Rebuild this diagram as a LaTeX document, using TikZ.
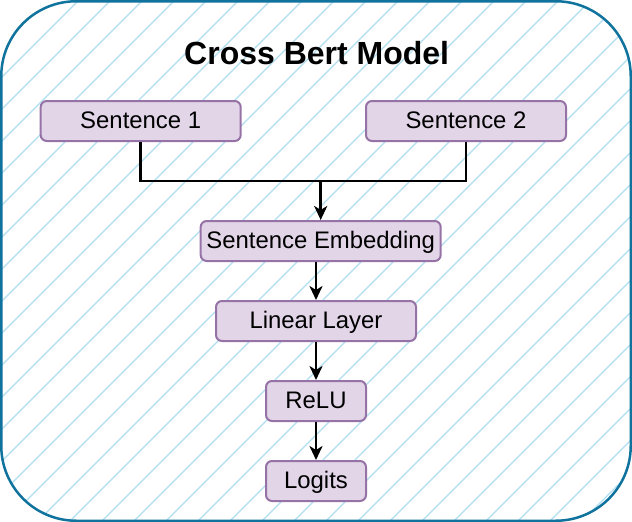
\documentclass[tikz,border=0pt]{standalone}
\usepackage{fontspec}
\setmainfont{Liberation Sans}
\usepackage{xcolor}
\usepackage{tikz}
\usetikzlibrary{arrows.meta,positioning}

\definecolor{frameblue}{HTML}{10739E}
\definecolor{hatchblue}{HTML}{B1DDF0}
\definecolor{layerfill}{HTML}{E1D5E7}
\definecolor{layerdraw}{HTML}{9673A6}

\begin{document}
\begin{tikzpicture}[
    x=1pt, y=-1pt,
    node distance=38pt,
    >={Stealth[length=14pt,width=13pt,inset=4pt]},
    layer/.style={rectangle, rounded corners=6pt, draw=layerdraw, fill=layerfill, line width=2pt, minimum height=40pt, inner sep=0pt, text height=19.8pt, text depth=5pt, font=\fontsize{23.9}{28}\selectfont},
    link/.style={line width=2.5pt, black}
]
    \useasboundingbox (0,0) rectangle (632,522);

    % Frame with hatching
    \begin{scope}
        \clip[rounded corners=75pt] (1.25,1.25) rectangle (630.75,520.75);
        \fill[white] (0,0) rectangle (632,522);
        \foreach \c in {15,47,...,1200}
            \draw[hatchblue, line width=1.3pt] (\c,0) -- (\c-600,600);
    \end{scope}
    \draw[frameblue, line width=2.5pt, rounded corners=75pt] (1.25,1.25) rectangle (630.75,520.75);

    % Title
    \node[font=\fontsize{32}{36}\selectfont\bfseries] (title) at (316.7,53) {Cross Bert Model};

    % Layers
    \node[layer, minimum width=200pt] (sent1) at (140.7,121) {Sentence 1};
    \node[layer, minimum width=200pt] (sent2) at (466,121) {Sentence 2};
    \node[layer, minimum width=240pt] (embed) at (320.7,241) {Sentence Embedding};
    \node[layer, minimum width=200pt] (linear) at (316,321) {Linear Layer};
    \node[layer, minimum width=100pt, below=of linear] (relu) {ReLU};
    \node[layer, minimum width=100pt, below=of relu] (logits) {Logits};

    % Connectors
    \coordinate (join) at (320.7,181);
    \draw[link] (sent1.south) |- (join) -| (sent2.south);
    \draw[link, ->] (join) -- (embed.north);
    \draw[link, ->] (embed.south -| linear.north) -- (linear.north);
    \draw[link, ->] (linear) -- (relu);
    \draw[link, ->] (relu) -- (logits);
\end{tikzpicture}
\end{document}
